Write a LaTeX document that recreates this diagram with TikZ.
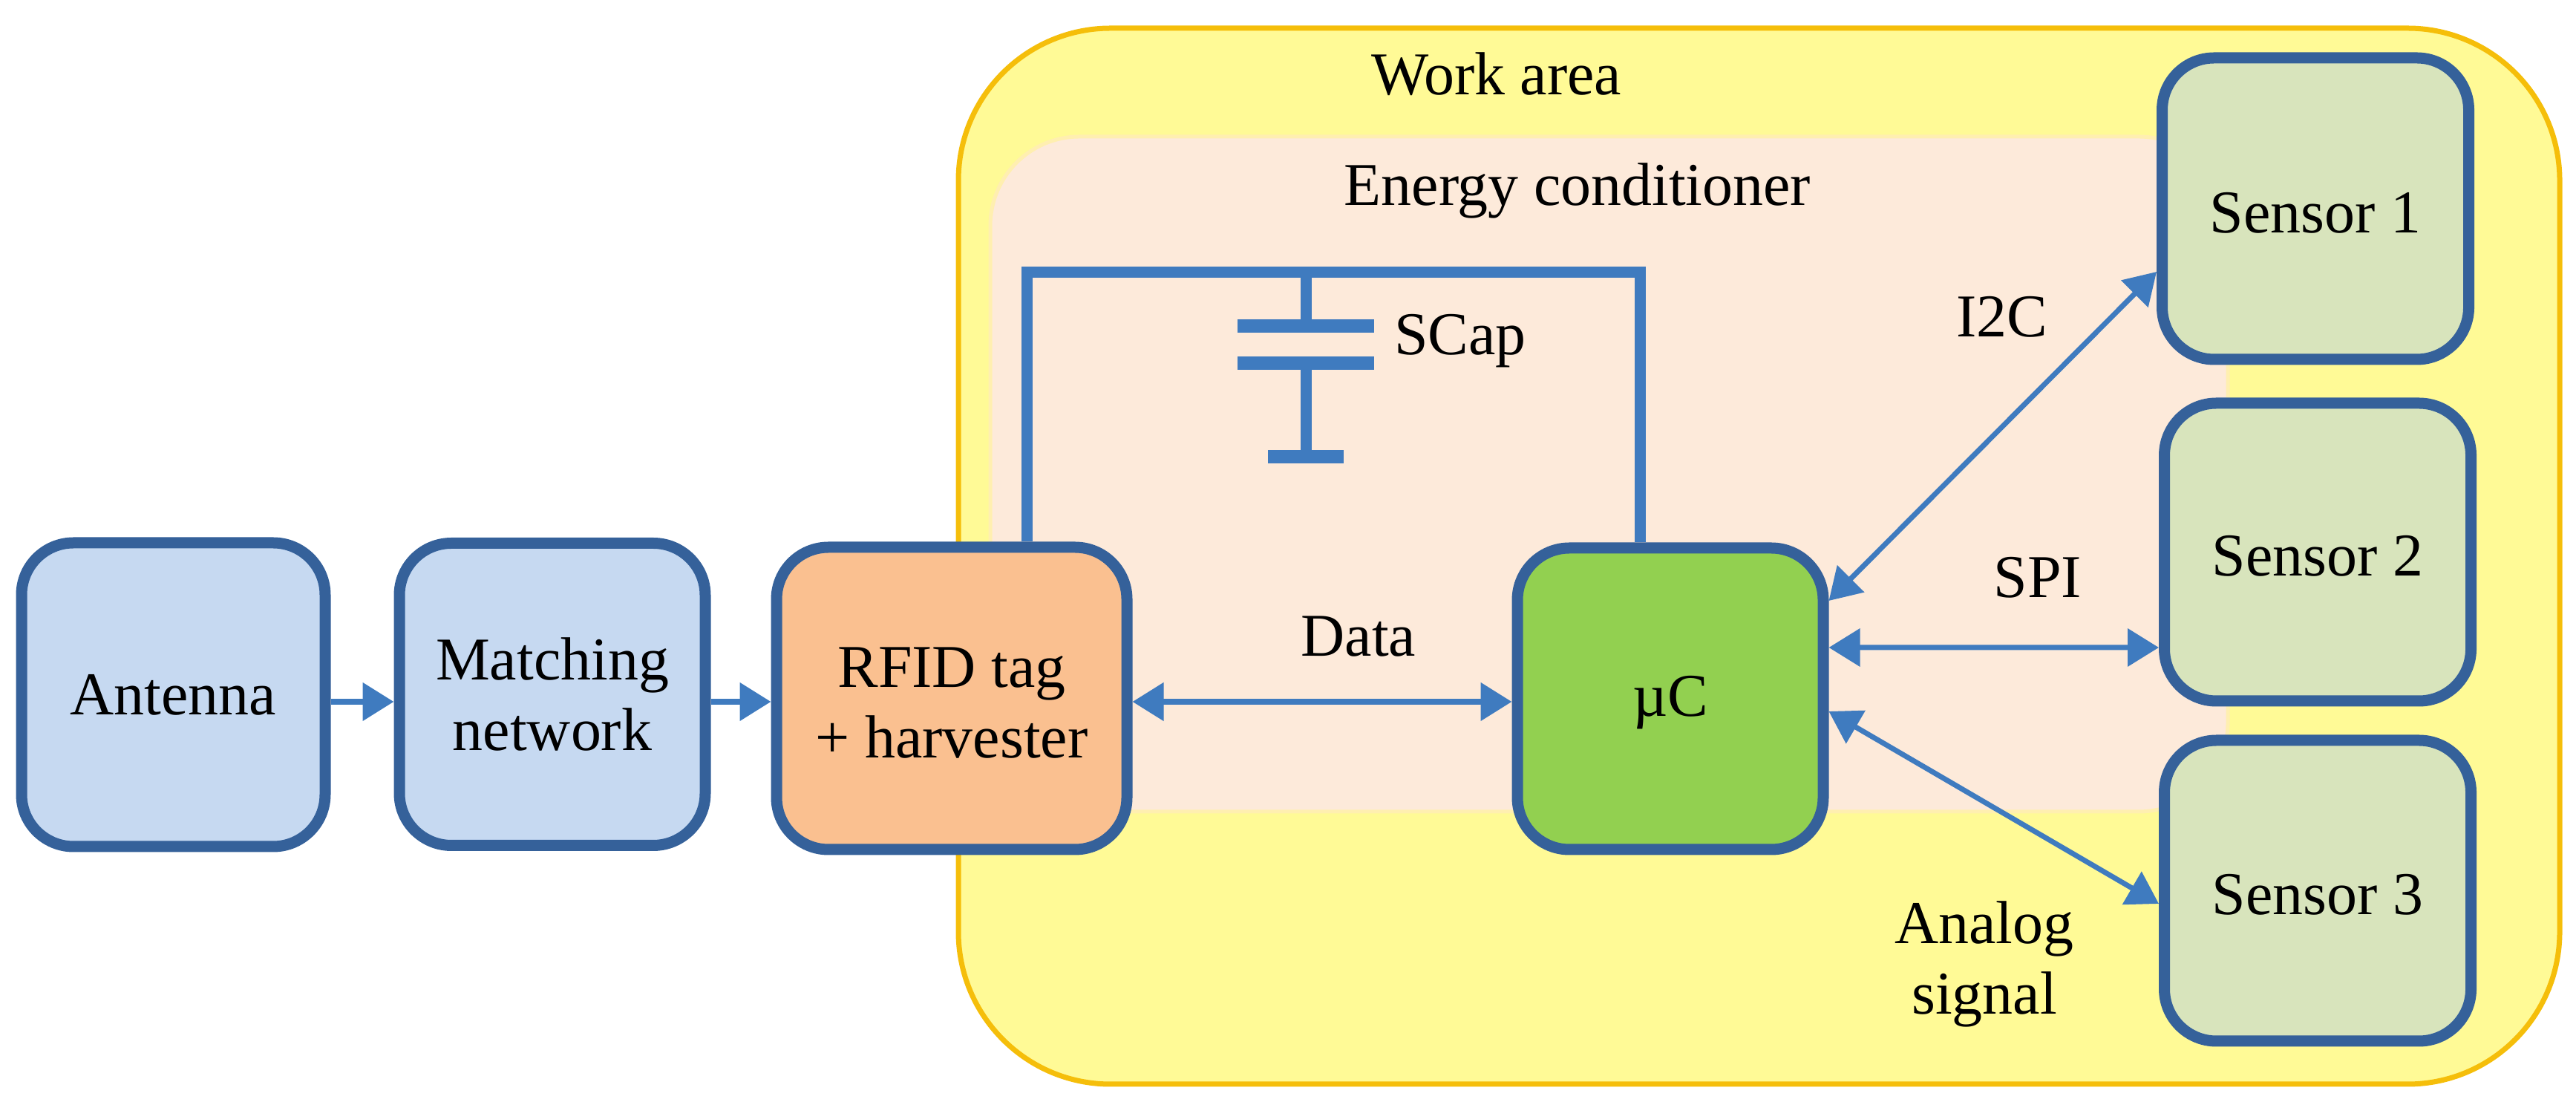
\documentclass[tikz,border=0pt]{standalone}
\usepackage{fontspec}
\setmainfont{Liberation Serif}
\usetikzlibrary{arrows.meta}
\definecolor{boxline}{HTML}{35619A}
\definecolor{wirecol}{HTML}{3F7BBF}
\definecolor{areafill}{HTML}{FFFA96}
\definecolor{arealine}{HTML}{F5BE0A}
\definecolor{condfill}{HTML}{FDEADA}
\definecolor{condline}{HTML}{FFEFB0}
\definecolor{netfill}{HTML}{C6D9F1}
\definecolor{tagfill}{HTML}{FAC090}
\definecolor{ucfill}{HTML}{92D050}
\definecolor{sensorfill}{HTML}{D8E4BC}
\tikzset{
  lbl/.style={font=\fontsize{23.3}{27}\selectfont,align=center,inner sep=0pt},
  blockbox/.style={lbl,draw=boxline,line width=0.15cm,rounded corners=0.7cm},
  flow/.style={draw=wirecol,<->,line width=0.07cm},
  wire/.style={draw=wirecol,line width=0.15cm}
}
\begin{document}
\begin{tikzpicture}[>={Triangle[length=4.2mm,width=5mm]}, line join=miter]
    \useasboundingbox (0,0) rectangle (34.7,14.84);
    \node[draw=arealine,fill=areafill,line width=0.07cm,rounded corners=2.05cm,minimum width=21.57cm,minimum height=14.22cm] (area) at (23.695,7.35) {};
    \node[draw=condline,fill=condfill,line width=0.05cm,rounded corners=1.2cm,minimum width=16.67cm,minimum height=9.09cm] (cond) at (21.675,8.455) {};
    \node[lbl,anchor=base] (areatxt) at (20.16,13.56) {Work area};
    \node[lbl,anchor=base] (condtxt) at (21.25,12.07) {Energy conditioner};
    % chain on the left
    \node[blockbox,fill=netfill,minimum width=4.09cm,minimum height=4.09cm] (antenna) at (2.335,5.485) {Antenna};
    \node[blockbox,fill=netfill,minimum width=4.12cm,minimum height=4.07cm] (match) at (7.44,5.49) {Matching\\network};
    \node[blockbox,fill=tagfill,minimum width=4.72cm,minimum height=4.07cm] (tag) at (12.82,5.435) {\rule{0pt}{0.66cm}RFID tag\\+ harvester};
    \node[blockbox,fill=ucfill,text height=0.65cm,minimum width=4.12cm,minimum height=4.06cm] (uc) at (22.50,5.43) {µC};
    \foreach \n/\x/\y/\h in {1/31.19/12.03/4.06,2/31.22/7.405/4.01,3/31.22/2.845/4.05}
    \node[blockbox,fill=sensorfill,text height=0.65cm,minimum width=4.13cm,minimum height=\h cm] (sensor\n) at (\x,\y) {Sensor \n};
    % storage capacitor
    \coordinate (wireL) at (13.83,11.17);
    \coordinate (wireR) at (22.09,11.17);
    \coordinate (capT) at (17.59,11.17);
    \coordinate (plateA) at (17.59,10.45);
    \coordinate (plateB) at (17.59,9.95);
    \coordinate (capG) at (17.59,8.69);
    \draw[wire] (tag.north -| wireL) -- (wireL) -- (wireR) -- (uc.north -| wireR);
    \draw[wire] (capT) -- (plateA);
    \draw[wire] (plateB) -- (capG);
    \foreach \c/\w in {plateA/0.92,plateB/0.92,capG/0.51}
    \draw[wirecol,line width=0.18cm] ([xshift=-\w cm]\c) -- ([xshift=\w cm]\c);
    \node[lbl,anchor=base] (scap) at (19.67,10.06) {SCap};
    % links
    \coordinate (flowY) at (0,5.39);
    \draw[draw=wirecol,->,line width=0.08cm] (antenna.east |- flowY) -- (match.west |- flowY);
    \draw[draw=wirecol,->,line width=0.08cm] (match.east |- flowY) -- (tag.west |- flowY);
    \draw[flow,line width=0.08cm] (tag.east |- flowY) -- (uc.west |- flowY);
    \draw[flow] ([yshift=1.32cm]uc.east) -- ([yshift=-0.85cm]sensor1.west);
    \draw[flow] ([yshift=0.69cm]uc.east) -- ([yshift=-1.285cm]sensor2.west);
    \draw[flow] ([yshift=-0.17cm]uc.east) -- ([yshift=-0.175cm]sensor3.west);
    \node[lbl,anchor=base] (data) at (18.30,6.00) {Data};
    \node[lbl,anchor=base] (i2c) at (26.97,10.30) {I2C};
    \node[lbl,anchor=base] (spi) at (27.45,6.79) {SPI};
    \node[lbl] (analog) at (26.73,1.86) {Analog\\signal};
\end{tikzpicture}
\end{document}
